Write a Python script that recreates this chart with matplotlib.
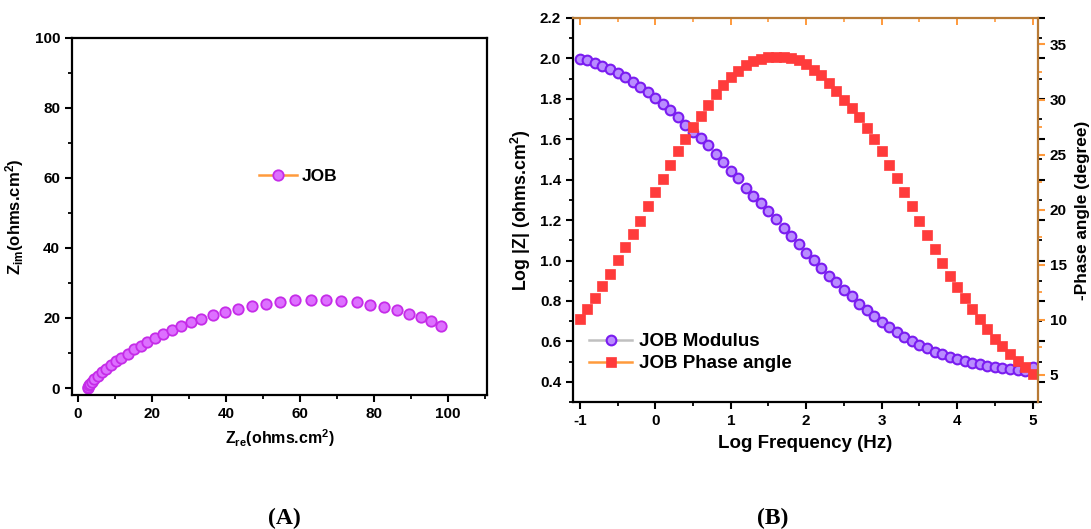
import matplotlib
matplotlib.use("Agg")
import matplotlib.pyplot as plt
from matplotlib.lines import Line2D
from matplotlib.ticker import MultipleLocator

plt.rcParams['font.family'] = ['Liberation Sans', 'DejaVu Sans']
plt.rcParams['font.weight'] = 'bold'
plt.rcParams['mathtext.fontset'] = 'custom'
plt.rcParams['mathtext.rm'] = 'Liberation Sans:bold'
plt.rcParams['mathtext.bf'] = 'Liberation Sans:bold'
plt.rcParams['mathtext.it'] = 'Liberation Sans:bold'

# ---- Nyquist data (panel A) ----
z_re = [2.7, 2.9, 3.1, 3.4, 3.8, 4.5, 5.4, 6.5, 7.6, 9.0, 10.3, 11.8, 13.5, 15.2,
        17.0, 18.8, 20.9, 23.0, 25.4, 27.8, 30.5, 33.4, 36.5, 39.9, 43.2, 47.1,
        50.9, 54.7, 58.7, 63.0, 67.1, 71.0, 75.3, 78.9, 82.7, 86.1, 89.5, 92.6,
        95.5, 98.2]
z_im = [0.0, 0.3, 0.8, 1.2, 1.6, 2.6, 3.5, 4.5, 5.5, 6.6, 7.6, 8.7, 9.8, 11.0,
        12.1, 13.1, 14.3, 15.4, 16.5, 17.6, 18.8, 19.8, 20.9, 21.8, 22.7, 23.5,
        24.1, 24.6, 25.0, 25.0, 25.0, 24.8, 24.5, 23.8, 23.1, 22.2, 21.2, 20.2,
        19.0, 17.6]

# ---- Bode data (panel B) ----
log_freq = [-1.0, -0.9, -0.8, -0.7, -0.6, -0.5, -0.4, -0.3, -0.2, -0.1,
            0.0, 0.1, 0.2, 0.3, 0.4, 0.5, 0.6, 0.7, 0.8, 0.9,
            1.0, 1.1, 1.2, 1.3, 1.4, 1.5, 1.6, 1.7, 1.8, 1.9,
            2.0, 2.1, 2.2, 2.3, 2.4, 2.5, 2.6, 2.7, 2.8, 2.9,
            3.0, 3.1, 3.2, 3.3, 3.4, 3.5, 3.6, 3.7, 3.8, 3.9,
            4.0, 4.1, 4.2, 4.3, 4.4, 4.5, 4.6, 4.7, 4.8, 4.9, 5.0]
log_z = [1.997, 1.99, 1.975, 1.96, 1.947, 1.93, 1.91, 1.884, 1.86, 1.834,
         1.804, 1.776, 1.743, 1.71, 1.672, 1.635, 1.605, 1.57, 1.527, 1.486,
         1.444, 1.406, 1.36, 1.32, 1.287, 1.245, 1.204, 1.163, 1.12, 1.08,
         1.038, 1.005, 0.964, 0.925, 0.892, 0.856, 0.822, 0.786, 0.756, 0.726,
         0.698, 0.673, 0.648, 0.624, 0.604, 0.582, 0.566, 0.549, 0.536, 0.524,
         0.512, 0.502, 0.494, 0.486, 0.479, 0.473, 0.468, 0.463, 0.458, 0.454, 0.475]
phase = [10.06, 10.97, 12.0, 13.1, 14.2, 15.4, 16.6, 17.8, 19.0, 20.3,
         21.6, 22.8, 24.1, 25.3, 26.4, 27.5, 28.5, 29.5, 30.5, 31.3,
         32.0, 32.6, 33.1, 33.5, 33.7, 33.9, 33.9, 33.9, 33.8, 33.6,
         33.2, 32.7, 32.2, 31.5, 30.8, 30.0, 29.2, 28.4, 27.4, 26.4,
         25.3, 24.1, 22.9, 21.6, 20.3, 19.0, 17.7, 16.4, 15.2, 14.0,
         13.0, 12.0, 11.0, 10.1, 9.2, 8.3, 7.6, 6.9, 6.3, 5.7, 5.1]

ORANGE = '#ff9a3c'
BROWN = '#b87a35'

fig = plt.figure(figsize=(10.91, 5.29), dpi=100)

# ================= Panel A =================
axA = fig.add_axes([0.066, 0.2533, 0.3804, 0.675])
nyq_style = dict(marker='o', ms=7.5, mfc='#dd70ff', mec='#c52ce8', mew=1.3)
axA.plot(z_re, z_im, ls='none', **nyq_style)
axA.set_xlim(-1.5, 110.5)
axA.set_ylim(-2, 100)
axA.xaxis.set_major_locator(MultipleLocator(20))
axA.xaxis.set_minor_locator(MultipleLocator(10))
axA.yaxis.set_major_locator(MultipleLocator(20))
axA.yaxis.set_minor_locator(MultipleLocator(10))
for s in axA.spines.values():
    s.set_linewidth(1.6)
axA.tick_params(which='major', direction='out', length=5, width=1.5, labelsize=11)
axA.tick_params(which='minor', direction='out', length=3, width=1.3)
axA.set_xlabel(r'$\mathregular{Z_{re}}$(ohms.cm$^\mathregular{2}$)', fontsize=11.5,
               fontweight='bold', labelpad=5)
axA.set_ylabel(r'$\mathregular{Z_{im}}$(ohms.cm$^\mathregular{2}$)', fontsize=12,
               fontweight='bold', labelpad=6)
hA = [Line2D([], [], color=ORANGE, lw=1.8, **nyq_style)]
axA.legend(hA, ['JOB'], loc='center left', bbox_to_anchor=(0.45, 0.612),
           frameon=False, handlelength=2.2, handletextpad=0.3,
           borderpad=0, borderaxespad=0, prop={'size': 12.5, 'weight': 'bold'})

# ================= Panel B =================
axB = fig.add_axes([0.5252, 0.2401, 0.4262, 0.7259])
mod_style = dict(marker='o', ms=7, mfc='#b98cff', mec='#7a1cf0', mew=1.5)
ph_style = dict(marker='s', ms=7, mfc='#ff3b3b', mec='#ff3b3b', mew=0.5)
axB.plot(log_freq, log_z, ls='none', zorder=3, **mod_style)
axB.set_xlim(-1.09, 5.07)
axB.set_ylim(0.3, 2.2)
axB.xaxis.set_minor_locator(MultipleLocator(0.5))
axB.yaxis.set_minor_locator(MultipleLocator(0.1))
axB.set_xticks([-1, 0, 1, 2, 3, 4, 5])
axB.set_xticklabels(['-1', '0', '1', '2', '3', '4', '5'])
axB.set_yticks([0.4, 0.6, 0.8, 1.0, 1.2, 1.4, 1.6, 1.8, 2.0, 2.2])
axB.set_yticklabels(['0.4', '0.6', '0.8', '1.0', '1.2', '1.4', '1.6', '1.8', '2.0', '2.2'])
axB.set_xlabel('Log Frequency (Hz)', fontsize=13.5, fontweight='bold', labelpad=5)
axB.set_ylabel(r'Log |Z| (ohms.cm$^\mathregular{2}$)', fontsize=12.8, fontweight='bold',
               labelpad=5)

axB2 = axB.twinx()
axB2.plot(log_freq, phase, ls='none', zorder=2, **ph_style)
axB2.set_ylim(2.55, 37.4)
axB2.yaxis.set_minor_locator(MultipleLocator(2.5))
axB2.set_yticks([5, 10, 15, 20, 25, 30, 35])
axB2.set_ylabel('-Phase angle (degree)', fontsize=12.4, fontweight='bold', labelpad=6)

# left-axis ticks (black), mirrored to the right side
axB.tick_params(which='major', direction='out', length=5, width=1.5, labelsize=11,
                left=True, right=True)
axB.tick_params(which='minor', direction='out', length=3, width=1.3,
                left=True, right=True)
axB.tick_params(axis='x', which='both', top=False)
# right-axis ticks (orange)
axB2.tick_params(axis='y', which='major', direction='out', length=5, width=1.5,
                 colors=ORANGE, labelcolor='black', labelsize=11)
axB2.tick_params(axis='y', which='minor', direction='out', length=3, width=1.3,
                 colors=ORANGE)
# orange inward ticks along the top edge
axB2.xaxis.set_visible(True)
axB2.tick_params(axis='x', which='both', bottom=False, labelbottom=False,
                 top=True, labeltop=False, direction='in', colors=ORANGE)
axB2.tick_params(axis='x', which='major', length=5, width=1.4)
axB2.tick_params(axis='x', which='minor', length=3, width=1.2)

for s in axB.spines.values():
    s.set_linewidth(1.6)
for s in axB2.spines.values():
    s.set_linewidth(1.6)
axB2.spines['right'].set_color(BROWN)
axB2.spines['top'].set_color(BROWN)
axB2.spines['left'].set_visible(False)
axB2.spines['bottom'].set_visible(False)
axB.spines['right'].set_visible(False)
axB.spines['top'].set_visible(False)

hB = [Line2D([], [], color='#c0c0c0', lw=1.8, **mod_style),
      Line2D([], [], color=ORANGE, lw=1.8, **ph_style)]
axB2.legend(hB, ['JOB Modulus', 'JOB Phase angle'], loc='center left',
            bbox_to_anchor=(0.035, 0.128), frameon=False, handlelength=2.3,
            handletextpad=0.37, labelspacing=0.25, borderpad=0, borderaxespad=0,
            prop={'size': 13.5, 'weight': 'bold'})

# Panel captions
fig.text(0.261, 0.019, '(A)', fontsize=17, fontweight='bold',
         family=['Liberation Serif', 'DejaVu Serif'], ha='center', va='center')
fig.text(0.708, 0.019, '(B)', fontsize=17, fontweight='bold',
         family=['Liberation Serif', 'DejaVu Serif'], ha='center', va='center')

fig.savefig('out.png', dpi=100)
